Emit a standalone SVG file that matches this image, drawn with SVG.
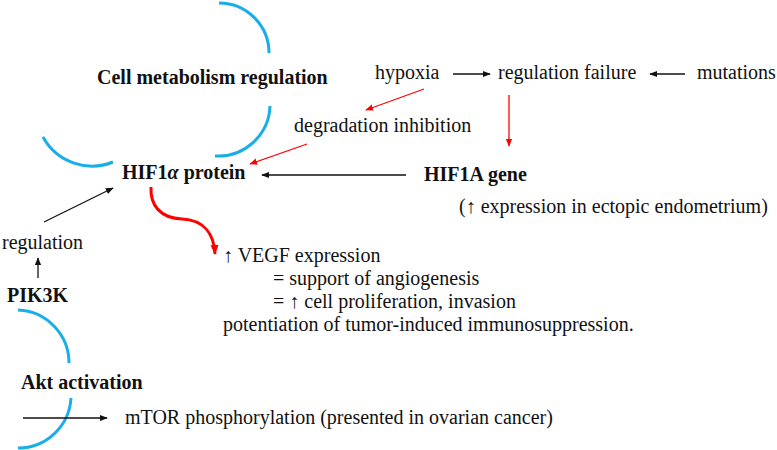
<svg xmlns="http://www.w3.org/2000/svg" width="777" height="450" viewBox="0 0 777 450">
<style>
text{font-family:"Liberation Serif","Times New Roman",serif;font-size:20px;fill:#111}
.b{font-weight:bold}
.arc{fill:none;stroke:#1aaee8;stroke-width:3}
.k{stroke:#111;stroke-width:1.3;fill:none}
.r{stroke:#f00;stroke-width:1.3;fill:none}
</style>
<defs>
<marker id="ak" viewBox="0 0 10 10" refX="9" refY="5" markerWidth="8" markerHeight="8" markerUnits="userSpaceOnUse" orient="auto"><path d="M0,1 L10,5 L0,9 Z" fill="#111"/></marker>
<marker id="ar" viewBox="0 0 10 10" refX="9" refY="5" markerWidth="8" markerHeight="8" markerUnits="userSpaceOnUse" orient="auto"><path d="M0,1 L10,5 L0,9 Z" fill="#f00"/></marker>
<marker id="ar2" viewBox="0 0 10 10" refX="9" refY="5" markerWidth="10" markerHeight="10" markerUnits="userSpaceOnUse" orient="auto"><path d="M0,1 L10,5 L0,9 Z" fill="#f00"/></marker>
</defs>
<g id="arcs">
<path class="arc" d="M219,3 A50,50 0 0 1 269,53"/>
<path class="arc" d="M270,106 A52,52 0 0 1 215,156"/>
<path class="arc" d="M43,137 A56,56 0 0 0 113,162"/>
<path class="arc" d="M18,310 A53,53 0 0 1 69,363"/>
<path class="arc" d="M71,398 A53,53 0 0 1 18,448"/>
</g>
<g id="connectors">
<line class="k" x1="453" y1="74" x2="490" y2="74" marker-end="url(#ak)"/>
<line class="k" x1="685" y1="74" x2="650" y2="74" marker-end="url(#ak)"/>
<line class="r" x1="424" y1="89" x2="366" y2="110" marker-end="url(#ar)"/>
<line class="r" x1="509" y1="95" x2="509" y2="146" marker-end="url(#ar)"/>
<line class="k" x1="406" y1="175" x2="262" y2="175" marker-end="url(#ak)"/>
<line class="r" x1="307" y1="144" x2="250" y2="164" marker-end="url(#ar)"/>
<line class="k" x1="44" y1="222" x2="113" y2="188" marker-end="url(#ak)"/>
<line class="k" x1="38" y1="278" x2="38" y2="258" marker-end="url(#ak)"/>
<path class="r" style="stroke-width:3" d="M151,187 C150,205 160,218 182,219 C204,220 214,234 215,254" marker-end="url(#ar2)"/>
<line class="k" x1="23" y1="418" x2="107" y2="418" marker-end="url(#ak)"/>
</g>
<g id="cell-metabolism"><text class="b" x="97" y="84">Cell metabolism regulation</text></g>
<g id="hypoxia"><text x="375" y="79">hypoxia</text></g>
<g id="regulation-failure"><text x="498" y="79">regulation failure</text></g>
<g id="mutations"><text x="697" y="79">mutations</text></g>
<g id="degradation-inhibition"><text x="294" y="132">degradation inhibition</text></g>
<g id="hif1a-protein"><text class="b" x="122" y="179">HIF1<tspan font-style="italic">α</tspan> protein</text></g>
<g id="hif1a-gene"><text class="b" x="424" y="181">HIF1A gene</text>
<text x="459" y="213">(↑ expression in ectopic endometrium)</text></g>
<g id="regulation"><text x="2" y="249">regulation</text></g>
<g id="pik3k"><text class="b" x="7" y="302">PIK3K</text></g>
<g id="vegf">
<text x="223" y="262">↑ VEGF expression</text>
<text x="273" y="285">= support of angiogenesis</text>
<text x="273" y="308">= ↑ cell proliferation, invasion</text>
<text x="223" y="331">potentiation of tumor-induced immunosuppression.</text>
</g>
<g id="akt"><text class="b" x="21" y="389">Akt activation</text></g>
<g id="mtor"><text x="125" y="424">mTOR phosphorylation (presented in ovarian cancer)</text></g>
</svg>
